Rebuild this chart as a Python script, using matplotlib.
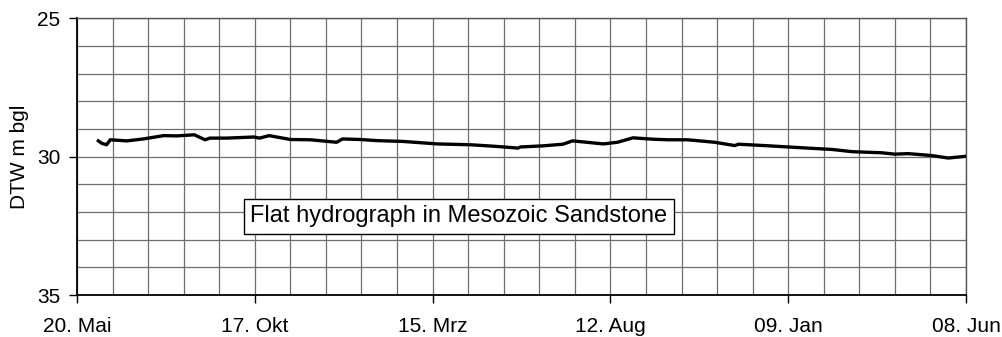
import numpy as np
import pandas as pd
import matplotlib
matplotlib.use("Agg")
import matplotlib.pyplot as plt

plt.rcParams['font.family'] = ['Liberation Sans', 'DejaVu Sans']

# water level record, days after 20. Mai, depth to water (m bgl)
start = pd.Timestamp('2003-05-20')
day = [18, 21, 25, 28, 42, 56, 73, 84, 99, 108, 112, 126, 149, 154, 162,
       180, 197, 219, 224, 239, 253, 275, 304, 332, 354, 372, 374, 393,
       410, 418, 430, 444, 456, 469, 486, 499, 515, 538, 555, 558, 580,
       608, 637, 654, 679, 690, 701, 721, 735, 749]
dtw = [29.43, 29.52, 29.57, 29.39, 29.43, 29.36, 29.24, 29.25, 29.21, 29.39,
       29.33, 29.33, 29.29, 29.33, 29.24, 29.38, 29.39, 29.48, 29.36, 29.38,
       29.42, 29.45, 29.54, 29.57, 29.63, 29.69, 29.65, 29.61, 29.55, 29.43,
       29.48, 29.54, 29.48, 29.32, 29.37, 29.39, 29.39, 29.48, 29.60, 29.55,
       29.60, 29.67, 29.74, 29.82, 29.86, 29.91, 29.89, 29.96, 30.05, 29.99]

tick_dates = ['2003-05-20', '2003-10-17', '2004-03-15', '2004-08-12',
              '2005-01-09', '2005-06-08']
tick_labels = ['20. Mai', '17. Okt', '15. Mrz', '12. Aug', '09. Jan', '08. Jun']

dates = start + pd.to_timedelta(day, unit='D')
ticks = pd.to_datetime(tick_dates)
minor = start + pd.to_timedelta(np.arange(0, 751, 30), unit='D')

fig = plt.figure(figsize=(10.03, 3.37), dpi=100)
ax = fig.add_axes([0.0768, 0.1246, 0.8863, 0.8211])

ax.plot(dates, dtw, color='black', lw=2.4, zorder=3)

ax.set_xlim(ticks[0], ticks[-1])
ax.set_ylim(35, 25)
ax.set_xticks(ticks)
ax.set_xticklabels(tick_labels)
ax.set_xticks(minor, minor=True)
ax.set_yticks([25, 30, 35])
ax.set_yticks(np.arange(25, 36, 1), minor=True)
ax.tick_params(axis='x', which='minor', length=0)
ax.tick_params(axis='y', which='minor', length=0)
ax.tick_params(which='major', length=6, width=1, labelsize=15, pad=6)
ax.tick_params(axis='x', which='major', pad=10)
ax.grid(which='both', color='#6e6e6e', lw=0.9)
ax.set_axisbelow(True)

ax.set_ylabel('DTW m bgl', fontsize=15, labelpad=6)

for s in ['left', 'bottom']:
    ax.spines[s].set_linewidth(1.3)
for s in ['top', 'right']:
    ax.spines[s].set_color('#555555')
    ax.spines[s].set_linewidth(1.0)

ax.text(start + pd.Timedelta(days=322), 32.15, 'Flat hydrograph in Mesozoic Sandstone',
        fontsize=17, ha='center', va='center', zorder=4,
        bbox=dict(boxstyle='square,pad=0.28', fc='white', ec='black', lw=1))

fig.savefig('out.png', dpi=100)
